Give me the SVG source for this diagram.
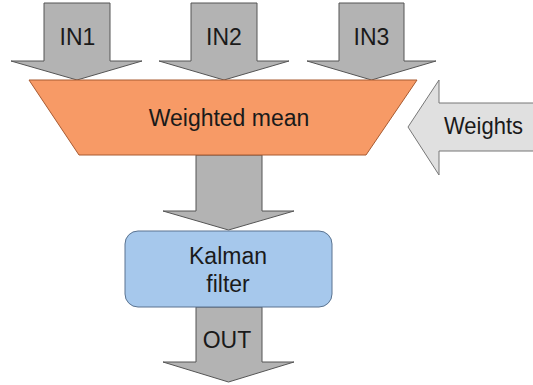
<svg xmlns="http://www.w3.org/2000/svg" width="533" height="385" viewBox="0 0 533 385">
<style>
.arrow{fill:#b3b3b3;stroke:#555;stroke-width:1;stroke-linejoin:miter}
.warrow{fill:#e0e0e0;stroke:#777;stroke-width:1}
.lbl{font-family:"Liberation Sans",Arial,sans-serif;font-size:23px;fill:#1a1a1a;text-anchor:middle}
</style>
<rect width="533" height="385" fill="#ffffff"/>
<g id="connectors">
  <g id="in1"><polygon class="arrow" points="44,3 110,3 110,61 142,61 77,80 11,61 44,61"/><text class="lbl" transform="translate(77.5,45) scale(1,1.08)">IN1</text></g>
  <g id="in2"><polygon class="arrow" points="191,3 257,3 257,61 289,61 224,80 159,61 191,61"/><text class="lbl" transform="translate(224,45) scale(1,1.08)">IN2</text></g>
  <g id="in3"><polygon class="arrow" points="339,3 404,3 404,61 436,61 371.5,80 307,61 339,61"/><text class="lbl" transform="translate(371.5,45) scale(1,1.08)">IN3</text></g>
  <g id="weights"><polygon class="warrow" points="540,103 439,103 439,80 408,127 439,175 439,151 540,151"/><text class="lbl" transform="translate(444,134) scale(1,1.08)" style="text-anchor:start;font-size:22px">Weights</text></g>
  <g id="mid"><polygon class="arrow" points="196,155 262,155 262,211 294,211 228.5,230 163,211 196,211"/></g>
  <g id="out"><polygon class="arrow" points="196,307 262,307 262,362 294,362 228.5,382 163,362 196,362"/><text class="lbl" transform="translate(227,348) scale(1,1.08)">OUT</text></g>
</g>
<g id="weighted-mean">
  <polygon points="29,80 417,80 366,155 79,155" fill="#f79a66" stroke="#a85a30" stroke-width="1"/>
  <text class="lbl" transform="translate(229,126) scale(1,1.08)">Weighted mean</text>
</g>
<g id="kalman">
  <rect x="125" y="231" width="207" height="76" rx="13" ry="13" fill="#a6c8ec" stroke="#5a7390" stroke-width="1"/>
  <text class="lbl" transform="translate(228,264) scale(1,1.08)">Kalman</text>
  <text class="lbl" transform="translate(228,292) scale(1,1.08)">filter</text>
</g>
</svg>
